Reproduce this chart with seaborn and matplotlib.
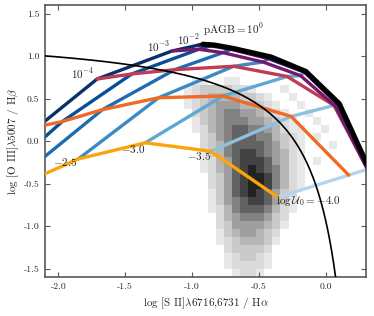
import numpy as np
import matplotlib
matplotlib.use("Agg")
import matplotlib.pyplot as plt
from matplotlib.colors import ListedColormap
import seaborn as sns

# model grid: ionisation parameter (columns) x pAGB fraction (rows)
log_u = [-4.0, -3.5, -3.0, -2.5, -2.0, -1.5, -1.0]

sii_p6 = [-0.36, -0.86, -1.35, -1.85, -2.45, -2.78, -3.08]
oiii_p6 = [-0.66, -0.12, -0.02, -0.21, -0.63, -0.90, -1.16]

sii_p5 = [0.17, -0.26, -0.77, -1.25, -1.67, -1.97, -2.15]
oiii_p5 = [-0.40, 0.29, 0.53, 0.51, 0.37, 0.23, 0.17]

sii_p4 = [0.31, 0.06, -0.29, -0.69, -1.13, -1.45, -1.71]
oiii_p4 = [-0.33, 0.42, 0.76, 0.88, 0.84, 0.79, 0.73]

sii_p3 = [0.31, 0.07, -0.19, -0.47, -0.77, -0.95, -1.15]
oiii_p3 = [-0.33, 0.41, 0.77, 0.93, 1.04, 1.08, 1.06]

sii_p2 = [0.32, 0.09, -0.16, -0.43, -0.71, -0.86, -0.95]
oiii_p2 = [-0.35, 0.43, 0.81, 0.97, 1.08, 1.12, 1.13]

sii_p0 = [0.33, 0.10, -0.15, -0.41, -0.69, -0.83, -0.92]
oiii_p0 = [-0.35, 0.44, 0.82, 0.99, 1.09, 1.13, 1.14]

pagb_names = ["1e-6", "1e-5", "1e-4", "1e-3", "1e-2", "1e0"]
pagb_colors = ["#fca50a", "#ef6a24", "#c23b52", "#75196d", "#35104f", "black"]

# Kewley et al. (2001) maximum starburst line for [S II]
kw_a, kw_b, kw_c = 0.72, 0.32, 1.30

# galaxy density (grey 2D histogram), rows top -> bottom, one digit per cell
hist_x_edges = np.linspace(-1.06, 0.14, 21)
hist_y_edges = np.linspace(-1.6, 0.75, 26)
hist_rows = [
    "01100110000000000000",
    "12333322100010000000",
    "12344443321001000000",
    "12345554432100100000",
    "02345665543210010000",
    "01345666554321001000",
    "01245677665421100100",
    "00235677766432101000",
    "00234677776532100010",
    "00134678876542100000",
    "00124578887542101000",
    "00124578987642100000",
    "00023578998642100000",
    "00023578998642100000",
    "00013578987532000000",
    "00013567887531000000",
    "00012467776421000000",
    "00002456665320000000",
    "00002355554310000000",
    "00001345543200000000",
    "00001234443100000000",
    "00000233332000000000",
    "00000123321000000000",
    "00000122221000000000",
    "00000012210000000000",
]
grey_levels = ["#e8e8e8", "#dadada", "#cacaca", "#b6b6b6", "#9e9e9e",
               "#828282", "#626262", "#424242", "#222222"]

sns.set_theme(style="ticks")
plt.rcParams.update({
    "font.family": ["cmr10"],
    "mathtext.fontset": "cm",
    "axes.unicode_minus": False,
    "axes.formatter.use_mathtext": False,
})

fig = plt.figure(figsize=(3.74, 3.16), dpi=100)
ax = fig.add_axes([0.120, 0.123, 0.859, 0.861])

# histogram cells
cx, cy, cw = [], [], []
xc = 0.5 * (hist_x_edges[:-1] + hist_x_edges[1:])
yc = 0.5 * (hist_y_edges[:-1] + hist_y_edges[1:])[::-1]
for r, row in enumerate(hist_rows):
    for c, ch in enumerate(row):
        if ch != "0":
            cx.append(xc[c])
            cy.append(yc[r])
            cw.append(int(ch))
sns.histplot(x=cx, y=cy, weights=cw, bins=[hist_x_edges, hist_y_edges],
             cmap=ListedColormap(grey_levels), vmin=0.5, vmax=9.5, ax=ax, zorder=0)

sii = [sii_p6, sii_p5, sii_p4, sii_p3, sii_p2, sii_p0]
oiii = [oiii_p6, oiii_p5, oiii_p4, oiii_p3, oiii_p2, oiii_p0]

# constant log U lines
blues = plt.get_cmap("Blues")(np.linspace(0.3, 1.0, len(log_u)))
for i in range(len(log_u)):
    sns.lineplot(x=[s[i] for s in sii], y=[o[i] for o in oiii], sort=False,
                 estimator=None, color=blues[i], lw=2.4, ax=ax, zorder=2)

# constant pAGB lines
for k, name in enumerate(pagb_names):
    sns.lineplot(x=sii[k], y=oiii[k], sort=False, estimator=None,
                 color=pagb_colors[k], lw=3.6 if name == "1e0" else 2.4,
                 ax=ax, zorder=3 + k)

kx = np.linspace(-2.2, 0.08, 300)
sns.lineplot(x=kx, y=kw_a / (kx - kw_b) + kw_c, sort=False, estimator=None,
             color="black", lw=1.2, ax=ax, zorder=10)

fs = 8
ax.text(-1.73, 0.79, r"$10^{-4}$", ha="right", va="center", fontsize=fs)
ax.text(-1.16, 1.11, r"$10^{-3}$", ha="right", va="center", fontsize=fs)
ax.text(-0.94, 1.19, r"$10^{-2}$", ha="right", va="center", fontsize=fs)
ax.text(-0.92, 1.31, r"$\mathrm{pAGB} = 10^{0}$", ha="left", va="center", fontsize=fs)
ax.text(-1.86, -0.25, r"$-2.5$", ha="right", va="center", fontsize=fs)
ax.text(-1.35, -0.09, r"$-3.0$", ha="right", va="center", fontsize=fs)
ax.text(-0.86, -0.18, r"$-3.5$", ha="right", va="center", fontsize=fs)
ax.text(-0.37, -0.71, r"$\log\mathcal{U}_0 = -4.0$", ha="left", va="center", fontsize=fs)

ax.set_xlim(-2.1, 0.3)
ax.set_ylim(-1.6, 1.6)
ax.set_xticks([-2.0, -1.5, -1.0, -0.5, 0.0])
ax.set_yticks([-1.5, -1.0, -0.5, 0.0, 0.5, 1.0, 1.5])
ax.tick_params(direction="in", length=3.5, width=0.8, top=True, right=True,
               labelsize=7, color="0.35", pad=4)
for sp in ax.spines.values():
    sp.set_color("0.35")
    sp.set_linewidth(1.2)
ax.set_xlabel(r"log [S II]$\lambda$6716,6731 / H$\alpha$", fontsize=8, labelpad=3)
ax.set_ylabel(r"log [O III]$\lambda$5007 / H$\beta$", fontsize=8, labelpad=2)

fig.savefig("out.png", dpi=100)
